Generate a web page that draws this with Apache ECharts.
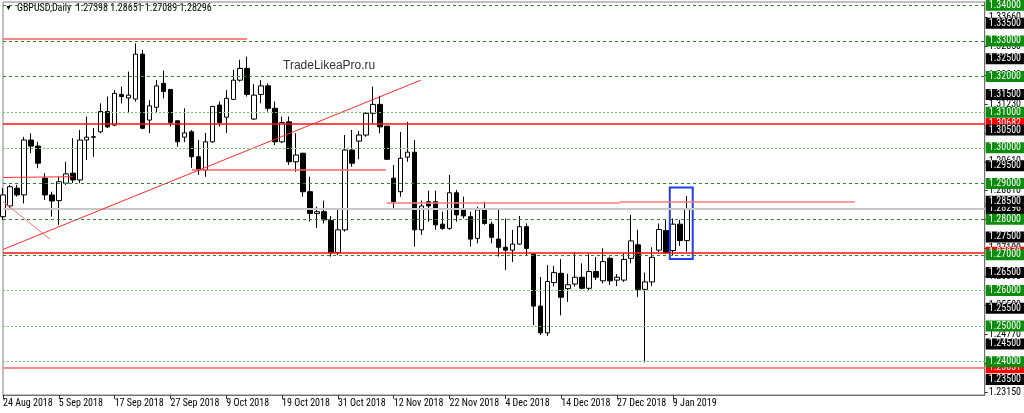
<!DOCTYPE html>
<html><head><meta charset="utf-8">
<script src="https://cdn.jsdelivr.net/npm/echarts@6/dist/echarts.min.js"></script>
<style>html,body{margin:0;padding:0;background:#fff}#c{width:1024px;height:413px}</style>
</head><body><div id="c"></div>
<script>
// ---- bar dates (daily, GBPUSD) ----
const dates = [
'24 Aug 2018','27 Aug 2018','28 Aug 2018','29 Aug 2018','30 Aug 2018','31 Aug 2018',
'3 Sep 2018','4 Sep 2018','5 Sep 2018','6 Sep 2018','7 Sep 2018','10 Sep 2018','11 Sep 2018','12 Sep 2018','13 Sep 2018','14 Sep 2018',
'17 Sep 2018','18 Sep 2018','19 Sep 2018','20 Sep 2018','21 Sep 2018','24 Sep 2018','25 Sep 2018','26 Sep 2018','27 Sep 2018','28 Sep 2018',
'1 Oct 2018','2 Oct 2018','3 Oct 2018','4 Oct 2018','5 Oct 2018','8 Oct 2018','9 Oct 2018','10 Oct 2018','11 Oct 2018','12 Oct 2018',
'15 Oct 2018','16 Oct 2018','17 Oct 2018','18 Oct 2018','19 Oct 2018','22 Oct 2018','23 Oct 2018','24 Oct 2018','25 Oct 2018','26 Oct 2018',
'29 Oct 2018','30 Oct 2018','31 Oct 2018',
'1 Nov 2018','2 Nov 2018','5 Nov 2018','6 Nov 2018','7 Nov 2018','8 Nov 2018','9 Nov 2018','12 Nov 2018','13 Nov 2018','14 Nov 2018',
'15 Nov 2018','16 Nov 2018','19 Nov 2018','20 Nov 2018','21 Nov 2018','22 Nov 2018','23 Nov 2018','26 Nov 2018','27 Nov 2018','28 Nov 2018',
'29 Nov 2018','30 Nov 2018',
'3 Dec 2018','4 Dec 2018','5 Dec 2018','6 Dec 2018','7 Dec 2018','10 Dec 2018','11 Dec 2018','12 Dec 2018','13 Dec 2018','14 Dec 2018',
'17 Dec 2018','18 Dec 2018','19 Dec 2018','20 Dec 2018','21 Dec 2018','24 Dec 2018','26 Dec 2018','27 Dec 2018','28 Dec 2018','31 Dec 2018',
'2 Jan 2019','3 Jan 2019','4 Jan 2019','7 Jan 2019','8 Jan 2019','9 Jan 2019','10 Jan 2019','11 Jan 2019'
];
const opens = [
1.2807,1.2837,1.2887,1.2868,1.3022,1.3005,1.2915,1.2868,1.2852,1.2901,
1.2929,1.2910,1.3022,1.3031,1.3045,1.3102,1.3064,1.3150,1.3140,1.3137,
1.3263,1.3078,1.3114,1.3181,1.3164,1.3076,1.3030,1.3045,1.2975,1.2938,
1.3017,1.3120,1.3086,1.3136,1.3190,1.3223,1.3081,1.3150,1.3174,1.3111,
1.3017,1.3073,1.2961,1.2985,1.2877,1.2816,1.2821,1.2796,1.2706,1.2770,
1.2994,1.3019,1.3036,1.3097,1.3122,1.3061,1.2915,1.2877,1.2974,1.2988,
1.2770,1.2849,1.2849,1.2786,1.2774,1.2874,1.2826,1.2807,1.2746,1.2826,
1.2786,1.2744,1.2721,1.2713,1.2730,1.2779,1.2702,1.2556,1.2481,1.2622,
1.2648,1.2605,1.2618,1.2637,1.2606,1.2653,1.2627,1.2690,1.2629,1.2629,
1.2690,1.2728,1.2603,1.2624,1.2713,1.2768,1.2712,1.2786,1.27398
];
const closes = [
1.2868,1.2891,1.2868,1.3022,1.3005,1.2957,1.2868,1.2851,1.2905,1.2927,
1.2910,1.3022,1.3030,1.3030,1.3102,1.3059,1.3153,1.3144,1.3148,1.3263,
1.3055,1.3118,1.3174,1.3158,1.3071,1.3017,1.3042,1.2975,1.2940,1.3017,
1.3116,1.3071,1.3139,1.3190,1.3223,1.3150,1.3148,1.3174,1.3111,1.3017,
1.3071,1.2961,1.2980,1.2877,1.2816,1.2821,1.2798,1.2706,1.2770,1.2994,
1.2957,1.3036,1.3097,1.3122,1.3059,1.2968,1.2849,1.2971,1.2988,1.2770,
1.2837,1.2837,1.2784,1.2774,1.2874,1.2812,1.2809,1.2744,1.2826,1.2788,
1.2749,1.2721,1.2713,1.2730,1.2779,1.2718,1.2556,1.2481,1.2625,1.2650,
1.2581,1.2616,1.2637,1.2606,1.2653,1.2637,1.2681,1.2627,1.2637,1.2687,
1.2739,1.2603,1.2624,1.2693,1.2771,1.2706,1.2786,1.2740,1.28296
];
const lows = [
1.2798,1.2828,1.2863,1.2844,1.2985,1.2943,1.2854,1.2807,1.2784,1.2896,
1.2901,1.2901,1.2966,1.2975,1.3041,1.3056,1.3061,1.3125,1.3097,1.3130,
1.3052,1.3041,1.3097,1.3139,1.3060,1.3003,1.3016,1.2944,1.2924,1.2919,
1.3014,1.3060,1.3042,1.3134,1.3186,1.3144,1.3078,1.3125,1.3102,1.3008,
1.3014,1.2952,1.2933,1.2863,1.2793,1.2775,1.2788,1.2695,1.2699,1.2765,
1.2947,1.2968,1.3031,1.3069,1.3041,1.2966,1.2826,1.2863,1.2961,1.2723,
1.2756,1.2793,1.2770,1.2770,1.2770,1.2793,1.2802,1.2723,1.2732,1.2784,
1.2732,1.2695,1.2657,1.2680,1.2728,1.2699,1.2503,1.2475,1.2472,1.2611,
1.2530,1.2568,1.2611,1.2603,1.2600,1.2629,1.2620,1.2615,1.2612,1.2624,
1.2676,1.2582,1.2398,1.2612,1.2707,1.2702,1.2698,1.2725,1.27089
];
const highs = [
1.2887,1.2896,1.2896,1.3031,1.3041,1.3017,1.2929,1.2877,1.2919,1.2961,
1.3027,1.3050,1.3088,1.3056,1.3125,1.3144,1.3162,1.3172,1.3214,1.3293,
1.3275,1.3134,1.3190,1.3217,1.3165,1.3077,1.3111,1.3050,1.3022,1.3042,
1.3118,1.3130,1.3162,1.3219,1.3247,1.3256,1.3179,1.3190,1.3181,1.3130,
1.3088,1.3088,1.3041,1.2986,1.2919,1.2835,1.2852,1.2809,1.2830,1.3036,
1.3050,1.3047,1.3100,1.3172,1.3146,1.3062,1.2952,1.3045,1.3073,1.3022,
1.2852,1.2880,1.2880,1.2821,1.2924,1.2882,1.2863,1.2821,1.2835,1.2849,
1.2793,1.2826,1.2802,1.2770,1.2809,1.2788,1.2704,1.2638,1.2671,1.2669,
1.2688,1.2647,1.2708,1.2676,1.2702,1.2694,1.2718,1.2695,1.2646,1.2704,
1.2812,1.2770,1.2650,1.2721,1.2788,1.2799,1.2802,1.2798,1.28651
];
// ---- axis ticks / price levels ----
const dateTickIdx = [0,8,16,24,32,40,48,56,64,72,80,88,96];
const scaleLabels = [1.2315,1.2396,1.2477,1.2558,1.2639,1.2719,1.2800,1.2881,1.2961,1.3042,1.3123,1.3204,1.3285,1.3366];
const roundLevels = [1.34,1.33,1.32,1.31,1.30,1.29,1.28,1.27,1.26,1.25,1.24];
const dottedLevels = [1.31,1.30,1.26,1.25,1.24];
const halfLevels = [1.335,1.325,1.315,1.305,1.295,1.285,1.275,1.265,1.255,1.245,1.235];
const redLevels = [1.30682,1.27070,1.23831];
const bidPrice = closes[closes.length-1];
// ---- drawn objects (bar index, price) ----
const resistTop = [[0,1.3306],[34.96,1.3305]];
const levelSep = [[0,1.2917],[10.0,1.2919]];
const levelOct = [[27.08,1.2939],[54.87,1.2939]];
const levelNov = [[55.0,1.2846],[88.4,1.2846]];
const levelDec = [[88.4,1.2849],[122.06,1.2849]];
const trendDown = [[0,1.2849],[6.73,1.2744]];
const trendUp = [[0,1.2715],[59.89,1.3190]];
const focusBox = [[95.56,1.2889],[98.85,1.2688]];

const FONT = "'Roboto Condensed','Liberation Sans',sans-serif";
const candles = dates.map((d,i)=>[i, opens[i], closes[i], lows[i], highs[i]]);
const fmt = p => Number(p.value).toFixed(5);
function boxLabel(bg){ return {show:true, position:'end', distance:1, formatter:fmt, color:'#fff',
  backgroundColor:bg, padding:[1,3,0,3], fontSize:10, fontFamily:FONT, lineHeight:10}; }
function seg(pts, color, width){ return [{coord:pts[0], lineStyle:{color:color,width:width,type:'solid'}},{coord:pts[1]}]; }

const chart = echarts.init(document.getElementById('c'));
chart.setOption({
  animation:false,
  backgroundColor:'#ffffff',
  grid:{left:3, right:39, top:2, bottom:18, show:true, borderColor:'#808080', borderWidth:1, backgroundColor:'#fff'},
  xAxis:{type:'value', min:0, max:140.7,
    axisLine:{show:true, onZero:false, lineStyle:{color:'#707070'}}, splitLine:{show:false},
    axisTick:{show:true, customValues:dateTickIdx, length:4, lineStyle:{color:'#303030'}},
    axisLabel:{customValues:dateTickIdx, showMinLabel:true, hideOverlap:false, formatter:v=>dates[v]||'', align:'left', margin:3, fontSize:10, fontFamily:FONT, color:'#000'}},
  yAxis:{type:'value', position:'right', min:1.23066, max:1.34093,
    axisLine:{show:true, onZero:false, lineStyle:{color:'#707070'}}, splitLine:{show:false},
    axisTick:{show:true, customValues:scaleLabels, length:3, lineStyle:{color:'#303030'}},
    axisLabel:{customValues:scaleLabels, formatter:v=>v.toFixed(5), margin:4, fontSize:10, fontFamily:FONT, color:'#000'}},
  graphic:[
    {type:'text', left:5, top:5, style:{text:'\u25BC', fontSize:7, fill:'#000'}},
    {type:'text', left:17, top:3, style:{text:'GBPUSD,Daily  '+[opens,highs,lows,closes].map(a=>a[a.length-1].toFixed(5)).join(' '), fontSize:10, fontFamily:FONT, fill:'#000'}},
    {type:'text', left:283, top:60, style:{text:'TradeLikeaPro.ru', fontSize:12, fontFamily:"'Liberation Sans',sans-serif", fill:'#333'}}
  ],
  series:[
    {type:'candlestick', data:candles, encode:{x:0, y:[1,2,3,4]}, barWidth:5, z:2,
      itemStyle:{color:'#ffffff', color0:'#000000', borderColor:'#000000', borderColor0:'#000000', borderColorDoji:'#000000', borderWidth:1},
      markArea:{silent:true, z:3, itemStyle:{color:'rgba(0,0,0,0)', borderColor:'#1f3ff0', borderWidth:2},
        data:[[{coord:focusBox[0]},{coord:focusBox[1]}]]}},
    {type:'line', data:[], markLine:{silent:true, z:3, precision:6, symbol:['none','none'],
      lineStyle:{color:'#c8c8c8', width:2, type:'solid'}, label:boxLabel('#000'),
      data:[{yAxis:bidPrice}]}},
    {type:'line', data:[], markLine:{silent:true, z:4, precision:6, symbol:['none','none'],
      label:boxLabel('#ff0000'),
      data:redLevels.map((v,i)=>({yAxis:v, lineStyle:{color:i===2?'#ff8a8a':'#ff1010', width:i===2?2:1.5, type:'solid'}}))}},
    {type:'line', data:[], markLine:{silent:true, z:4, precision:6, symbol:['none','none'], label:{show:false},
      data:[seg(resistTop,'#ff5c5c',1.5), seg(levelSep,'#ff3030',1), seg(levelOct,'#ff6060',1.5),
            seg(levelNov,'#ff7a7a',1.5), seg(levelDec,'#ff7a7a',1.5), seg(trendDown,'#ff7070',1), seg(trendUp,'#ff2a2a',1)]}},
    {type:'line', data:[], markLine:{silent:true, z:5, precision:6, symbol:['none','none'],
      label:boxLabel('#0c8c0c'),
      data:roundLevels.map(v=>{const dot=dottedLevels.some(d=>Math.abs(d-v)<1e-9);
        return {yAxis:v, lineStyle:{color:dot?'#74c074':'#2a882a', width:1, type:dot?[2,2]:[3,3]}};})}},
    {type:'line', data:[], markLine:{silent:true, z:6, precision:6, symbol:['none','none'],
      lineStyle:{color:'rgba(0,0,0,0)', width:1}, label:boxLabel('#000'),
      data:halfLevels.map(v=>({yAxis:v}))}}
  ]
});
</script></body></html>
